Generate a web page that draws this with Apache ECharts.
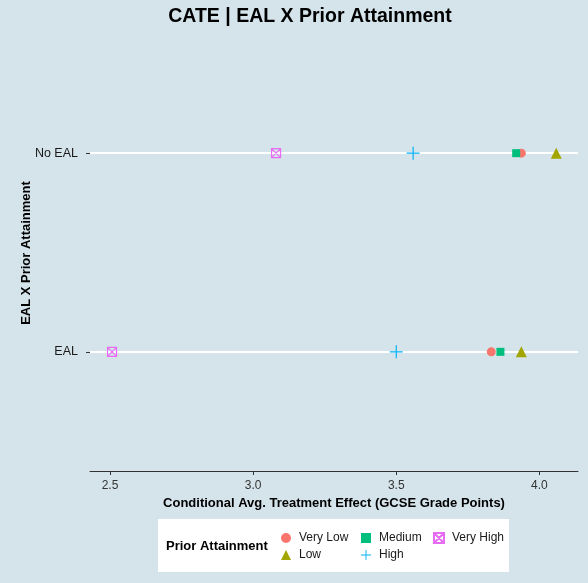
<!DOCTYPE html>
<html><head><meta charset="utf-8">
<script src="https://cdn.jsdelivr.net/npm/echarts@6/dist/echarts.min.js"></script>
<style>html,body{margin:0;padding:0;background:#d5e4eb}#c{width:588px;height:583px}</style>
</head><body><div id="c"></div>
<script>
const categories = ['EAL', 'No EAL'];
const groups = ['Very Low', 'Low', 'Medium', 'High', 'Very High'];
const valuesEAL = [3.832, 3.937, 3.864, 3.500, 2.507];
const valuesNoEAL = [3.937, 4.059, 3.919, 3.559, 3.080];
const xTicks = [2.5, 3.0, 3.5, 4.0];
const colors = ['#F8766D', '#A3A500', '#00BF7D', '#00B0F6', '#E76BF3'];

const FONT = '"Liberation Sans", Arial, sans-serif';
const symbols = [
  'circle',
  'triangle',
  'rect',
  'path://M4.55,0H5.45V4.55H10V5.45H5.45V10H4.55V5.45H0V4.55H4.55Z',
  'path://M0,0L10,0L10,10L0,10ZM0,0L10,10M10,0L0,10'
];
const sizes = [9, 11, 8, 13, 9];

const series = groups.map((g, i) => {
  const isVH = i === 4;
  return {
    name: g,
    type: 'scatter',
    z: 3,
    symbol: symbols[i],
    symbolSize: sizes[i],
    itemStyle: isVH
      ? { color: 'rgba(0,0,0,0)', borderColor: colors[i], borderWidth: 1.2, opacity: 1 }
      : { color: colors[i], opacity: 1 },
    data: [[valuesEAL[i], 1], [valuesNoEAL[i], 2]]
  };
});
series.unshift({
  name: 'grid',
  type: 'line',
  z: 1,
  data: [],
  markLine: {
    z: 1,
    silent: true,
    symbol: 'none',
    label: { show: false },
    lineStyle: { color: '#ffffff', width: 2, type: 'solid' },
    data: categories.map((c, i) => ({ yAxis: i + 1 }))
  }
});

const legendCommon = {
  orient: 'vertical',
  itemWidth: 10,
  itemHeight: 10,
  itemGap: 5,
  textStyle: { fontFamily: FONT, fontSize: 12, color: '#1a1a1a', padding: [0, 0, 0, 3] },
  selectedMode: false
};

const chart = echarts.init(document.getElementById('c'));
chart.setOption({
  backgroundColor: '#d5e4eb',
  animation: false,
  color: colors,
  grid: { left: 90, right: 10, top: 34, bottom: 112 },
  xAxis: {
    type: 'value',
    min: 2.43,
    max: 4.135,
    name: 'Conditional Avg. Treatment Effect (GCSE Grade Points)',
    nameLocation: 'middle',
    nameGap: 22,
    nameTextStyle: { fontFamily: FONT, fontSize: 13, fontWeight: 'bold', color: '#000' },
    axisLine: { show: true, lineStyle: { color: '#333', width: 1 } },
    axisTick: { show: true, length: 4, customValues: xTicks, lineStyle: { color: '#333' } },
    axisLabel: { customValues: xTicks, margin: 9, fontFamily: FONT, fontSize: 12, color: '#333',
      formatter: v => v.toFixed(1) },
    splitLine: { show: false }
  },
  yAxis: {
    type: 'value',
    min: 0.4,
    max: 2.6,
    axisLine: { show: false },
    axisTick: { show: true, length: 4, customValues: [1, 2], lineStyle: { color: '#333' } },
    axisLabel: { customValues: [1, 2], margin: 12, fontFamily: FONT, fontSize: 12.5, color: '#1a1a1a',
      formatter: v => categories[Math.round(v) - 1] || '' },
    splitLine: { show: false }
  },
  legend: [
    Object.assign({ data: ['Very Low', 'Low'], left: 276, top: 527 }, legendCommon),
    Object.assign({ data: ['Medium', 'High'], left: 356, top: 527 }, legendCommon),
    Object.assign({ data: ['Very High'], left: 428, top: 527 }, legendCommon)
  ],
  graphic: [
    { type: 'rect', z: -1, shape: { x: 158, y: 519, width: 351, height: 53 }, style: { fill: '#ffffff' } },
    { type: 'text', x: 166, y: 546, style: { text: 'Prior Attainment', font: 'bold 13px ' + FONT, fill: '#000', textVerticalAlign: 'middle' } },
    { type: 'text', x: 310, y: 17, style: { text: 'CATE | EAL X Prior Attainment', font: 'bold 19.5px ' + FONT, fill: '#000', textAlign: 'center', textVerticalAlign: 'middle' } },
    { type: 'text', x: 26, y: 253, rotation: Math.PI / 2, style: { text: 'EAL X Prior Attainment', font: 'bold 13px ' + FONT, fill: '#000', textAlign: 'center', textVerticalAlign: 'middle' } }
  ],
  series: series
});
</script></body></html>
